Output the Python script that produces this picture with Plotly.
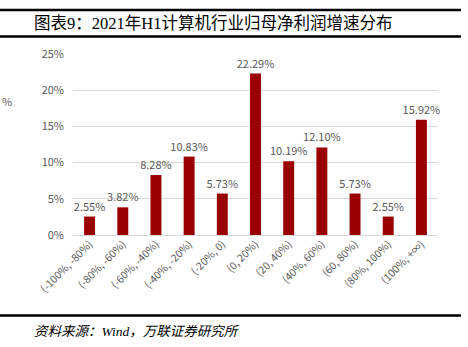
import plotly.graph_objects as go

categories = ["(-100%, -80%)", "(-80%, -60%)", "(-60%, -40%)", "(-40%, -20%)",
              "(-20%, 0)", "(0, 20%)", "(20, 40%)", "(40%, 60%)", "(60, 80%)",
              "(80%, 100%)", "(100%, +∞)"]
values = [2.55, 3.82, 8.28, 10.83, 5.73, 22.29, 10.19, 12.10, 5.73, 2.55, 15.92]
y_ticks = [0, 5, 10, 15, 20, 25]
y_tick_labels = ["0%", "5%", "10%", "15%", "20%", "25%"]
title_text = "图表9：2021年H1计算机行业归母净利润增速分布"
source_text = "资料来源：Wind，万联证券研究所"

W, H = 468, 347
gray = "#595959"
sans = "Noto Sans CJK SC, Noto Sans, sans-serif"

fig = go.Figure(go.Bar(
    x=categories, y=values,
    marker=dict(color="#990000", line=dict(width=0)),
    text=[f"{v:.2f}%" for v in values],
    textposition="outside",
    constraintext="none",
    textfont=dict(family=sans, size=11, color=gray),
    cliponaxis=False,
    width=0.33,
))

def py(px):
    return 1 - px / H

fig.update_layout(
    width=W, height=H,
    margin=dict(l=0, r=0, t=0, b=0, autoexpand=False),
    paper_bgcolor="white", plot_bgcolor="white",
    showlegend=False,
    xaxis=dict(domain=[73 / W, 438 / W], tickangle=-45, automargin=False,
               tickfont=dict(family=sans, size=10.5, color=gray),
               showgrid=False, showline=False, ticks=""),
    yaxis=dict(domain=[py(235), py(54)], range=[0, 25], automargin=False,
               tickvals=y_ticks, ticktext=y_tick_labels,
               tickfont=dict(family=sans, size=11, color=gray),
               showgrid=True, gridcolor="#d9d9d9", gridwidth=1,
               zeroline=True, zerolinecolor="#d9d9d9", zerolinewidth=1,
               showline=False, ticks="", ticklabelstandoff=8),
    shapes=[
        dict(type="line", xref="paper", yref="paper", x0=0, x1=461 / W,
             y0=py(10), y1=py(10), line=dict(color="black", width=2.5)),
        dict(type="line", xref="paper", yref="paper", x0=0, x1=461 / W,
             y0=py(36.5), y1=py(36.5), line=dict(color="black", width=2.5)),
        dict(type="line", xref="paper", yref="paper", x0=0, x1=461 / W,
             y0=py(315.5), y1=py(315.5), line=dict(color="black", width=2.5)),
    ],
    annotations=[
        dict(text=title_text, xref="paper", yref="paper", x=32 / W, y=py(23),
             xanchor="left", yanchor="middle", showarrow=False,
             font=dict(family="Liberation Serif, Noto Sans CJK SC, serif", size=16.5, color="black")),
        dict(text="<i>" + source_text + "</i>", xref="paper", yref="paper",
             x=32 / W, y=py(331), xanchor="left", yanchor="middle", showarrow=False,
             font=dict(family="Liberation Serif, Noto Sans CJK SC, serif", size=13.5, color="black")),
        dict(text="%", xref="paper", yref="paper", x=0, y=py(101),
             xanchor="left", yanchor="middle", showarrow=False,
             font=dict(family=sans, size=11, color=gray)),
    ],
)

fig.write_html("out.html")
